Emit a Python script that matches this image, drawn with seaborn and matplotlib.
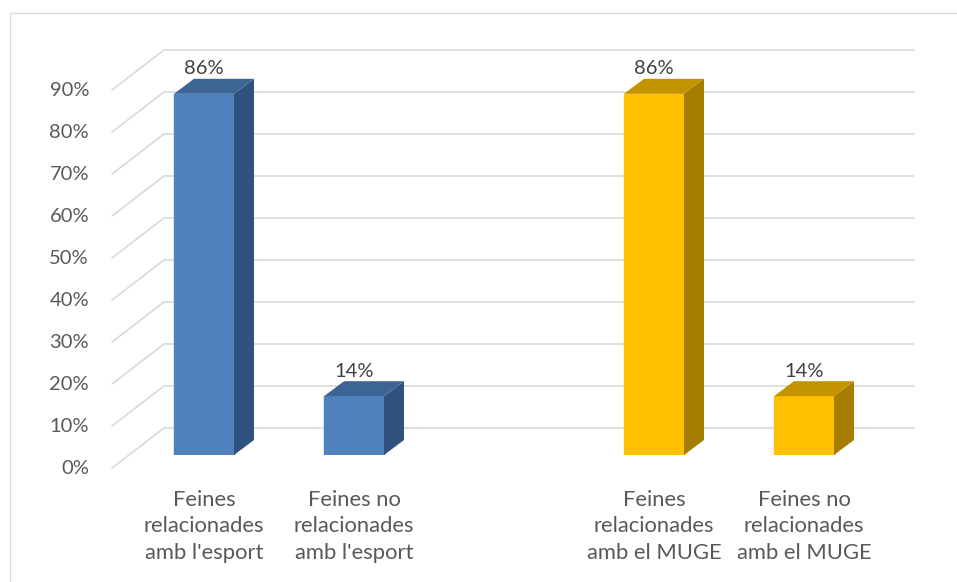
import pandas as pd
import matplotlib
matplotlib.use("Agg")
import matplotlib.pyplot as plt
from matplotlib.patches import Polygon, Rectangle
import seaborn as sns

# Data
categories = [
    "Feines\nrelacionades\namb l'esport",
    "Feines no\nrelacionades\namb l'esport",
    "Feines\nrelacionades\namb el MUGE",
    "Feines no\nrelacionades\namb el MUGE",
]
values = [86, 14, 86, 14]
y_ticks = [0, 10, 20, 30, 40, 50, 60, 70, 80, 90]

front_colors = ["#4F81BD", "#4F81BD", "#FFC000", "#FFC000"]
side_colors = ["#30527E", "#30527E", "#A67D00", "#A67D00"]
top_colors = ["#3C6596", "#3C6596", "#C49300", "#C49300"]

df = pd.DataFrame({"category": categories, "value": values})
order = categories[:2] + [" "] + categories[2:]

sns.set_style("white")
plt.rcParams["font.family"] = ["Lato", "DejaVu Sans"]

W, H = 957, 582
fig = plt.figure(figsize=(W / 100, H / 100), dpi=100)
# axes = front plane of the bars (0..100 %)
ax = fig.add_axes([129 / W, 127 / H, 750 / W, 420 / H])

sns.barplot(data=df, x="category", y="value", order=order, hue="category",
            palette=dict(zip(categories, front_colors)), width=0.4,
            legend=False, saturation=1, ax=ax, zorder=3)
ax.set_xlim(-0.5, 4.5)
ax.set_ylim(0, 100)

# pixel -> data conversions
sx = 750 / 5
sy = 420 / 100
front = (-17 / sx, -13 / sy)   # floor front offset
back = (35 / sx, 27 / sy)      # back wall offset
depth = (20 / sx, 15 / sy)     # bar depth

grid_c = "#D9D9D9"
x0, x1 = ax.get_xlim()
for v in y_ticks:
    ax.plot([x0 + back[0], x1 + back[0]], [v + back[1]] * 2, color=grid_c,
            lw=1.2, clip_on=False, zorder=1)
    ax.plot([x0 + front[0], x0 + back[0]], [v + front[1], v + back[1]],
            color=grid_c, lw=1.2, clip_on=False, zorder=1)
    ax.text(x0 + front[0] - 23 / sx, v + front[1], f"{v}%", ha="right",
            va="center", fontsize=14.5, color="#595959")

# 3D faces and data labels
for i, p in enumerate(ax.patches):
    bx, bw, bh = p.get_x(), p.get_width(), p.get_height()
    p.set_edgecolor(front_colors[i])
    side = [(bx + bw, 0), (bx + bw, bh), (bx + bw + depth[0], bh + depth[1]),
            (bx + bw + depth[0], depth[1])]
    top = [(bx, bh), (bx + bw, bh), (bx + bw + depth[0], bh + depth[1]),
           (bx + depth[0], bh + depth[1])]
    ax.add_patch(Polygon(side, closed=True, fc=side_colors[i], ec="none",
                         zorder=3, clip_on=False))
    ax.add_patch(Polygon(top, closed=True, fc=top_colors[i], ec="none",
                         zorder=3, clip_on=False))
    ax.text(bx + bw / 2, bh + 25 / sy, f"{values[i]}%", ha="center",
            va="center", fontsize=14.5, color="#404040")

ax.set_xticks([0, 1, 3, 4])
ax.set_xticklabels(categories, fontsize=15.8, color="#595959", linespacing=1.42)
ax.tick_params(axis="x", length=0, pad=25)
ax.set_yticks([])
ax.set_xlabel("")
ax.set_ylabel("")
sns.despine(ax=ax, left=True, bottom=True)
ax.patch.set_alpha(0)

# chart area border
fig.add_artist(Rectangle((10 / W, -1), 2, 1 + (H - 13) / H,
                         transform=fig.transFigure, fill=False,
                         ec=grid_c, lw=1))

fig.savefig("out.png", dpi=100)
